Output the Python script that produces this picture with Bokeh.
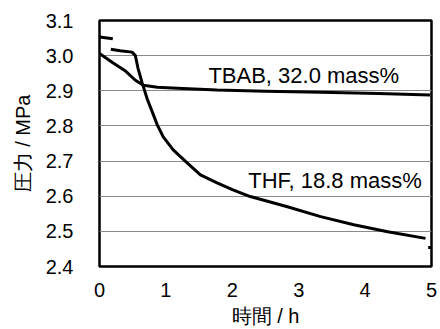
from bokeh.plotting import figure
from bokeh.models import Range1d, FixedTicker, Label, CustomJSTickFormatter
from bokeh.embed import file_html
from bokeh.resources import INLINE

# Time (h) and pressure (MPa) readings
thf_head_t = [0.0, 0.2]
thf_head_p = [3.053, 3.048]

thf_t = [0.17, 0.31, 0.49, 0.54, 0.58, 0.64, 0.72, 0.79, 0.87, 0.96, 1.11,
         1.32, 1.52, 1.77, 2.01, 2.27, 2.83, 3.33, 3.83, 4.34, 4.91]
thf_p = [3.018, 3.014, 3.010, 3.000, 2.964, 2.924, 2.876, 2.842, 2.803, 2.769,
         2.732, 2.695, 2.661, 2.638, 2.618, 2.599, 2.570, 2.542, 2.519, 2.499,
         2.480]

thf_tail_t = [4.95, 5.0]
thf_tail_p = [2.454, 2.454]

tbab_t = [0.0, 0.2, 0.38, 0.54, 0.66, 0.87, 1.17, 1.77, 2.5, 3.33, 4.2, 4.98]
tbab_p = [3.006, 2.980, 2.958, 2.930, 2.916, 2.910, 2.907, 2.902, 2.899,
          2.896, 2.892, 2.888]

x_ticks = [0, 1, 2, 3, 4, 5]
y_ticks = [2.4, 2.5, 2.6, 2.7, 2.8, 2.9, 3.0, 3.1]

FONT = "Liberation Sans"

p = figure(width=440, height=329, output_backend="svg", toolbar_location=None,
           x_range=Range1d(0, 5), y_range=Range1d(2.4, 3.1),
           min_border_left=99, min_border_right=9, min_border_top=20,
           min_border_bottom=62)

p.outline_line_color = "black"
p.outline_line_width = 2.5
p.background_fill_color = "white"
p.border_fill_color = "white"

p.xgrid.grid_line_color = None
p.ygrid.grid_line_color = "#8a8a8a"
p.ygrid.grid_line_width = 1
p.ygrid.ticker = FixedTicker(ticks=y_ticks)

p.xaxis.ticker = FixedTicker(ticks=x_ticks)
p.yaxis.ticker = FixedTicker(ticks=y_ticks)
p.yaxis.formatter = CustomJSTickFormatter(code="return tick.toFixed(1);")

for ax in (p.xaxis[0], p.yaxis[0]):
    ax.axis_line_color = None
    ax.major_tick_line_color = None
    ax.minor_tick_line_color = None
    ax.major_tick_in = 0
    ax.major_tick_out = 0
    ax.major_label_text_font = FONT
    ax.major_label_text_font_size = "20px"
    ax.major_label_text_color = "black"
    ax.axis_label_text_font = FONT
    ax.axis_label_text_font_style = "normal"
    ax.axis_label_text_font_size = "20px"
    ax.axis_label_text_color = "black"

p.xaxis.axis_label = "時間 / h"
p.yaxis.axis_label = "圧力 / MPa"
p.xaxis.major_label_standoff = 16
p.yaxis.major_label_standoff = 26
p.xaxis.axis_label_standoff = 5
p.yaxis.axis_label_standoff = 9

lw = 3
p.line(thf_head_t, thf_head_p, line_color="black", line_width=lw)
p.line(thf_t, thf_p, line_color="black", line_width=lw, line_join="round")
p.line(thf_tail_t, thf_tail_p, line_color="black", line_width=lw)
p.line(tbab_t, tbab_p, line_color="black", line_width=lw, line_join="round")

p.add_layout(Label(x=1.64, y=2.944, text="TBAB, 32.0 mass%",
                   text_font=FONT, text_font_size="22px", text_color="black",
                   text_baseline="middle", text_align="left"))
p.add_layout(Label(x=2.24, y=2.644, text="THF, 18.8 mass%",
                   text_font=FONT, text_font_size="22px", text_color="black",
                   text_baseline="middle", text_align="left"))

open("out.html", "w").write(file_html(p, INLINE))
